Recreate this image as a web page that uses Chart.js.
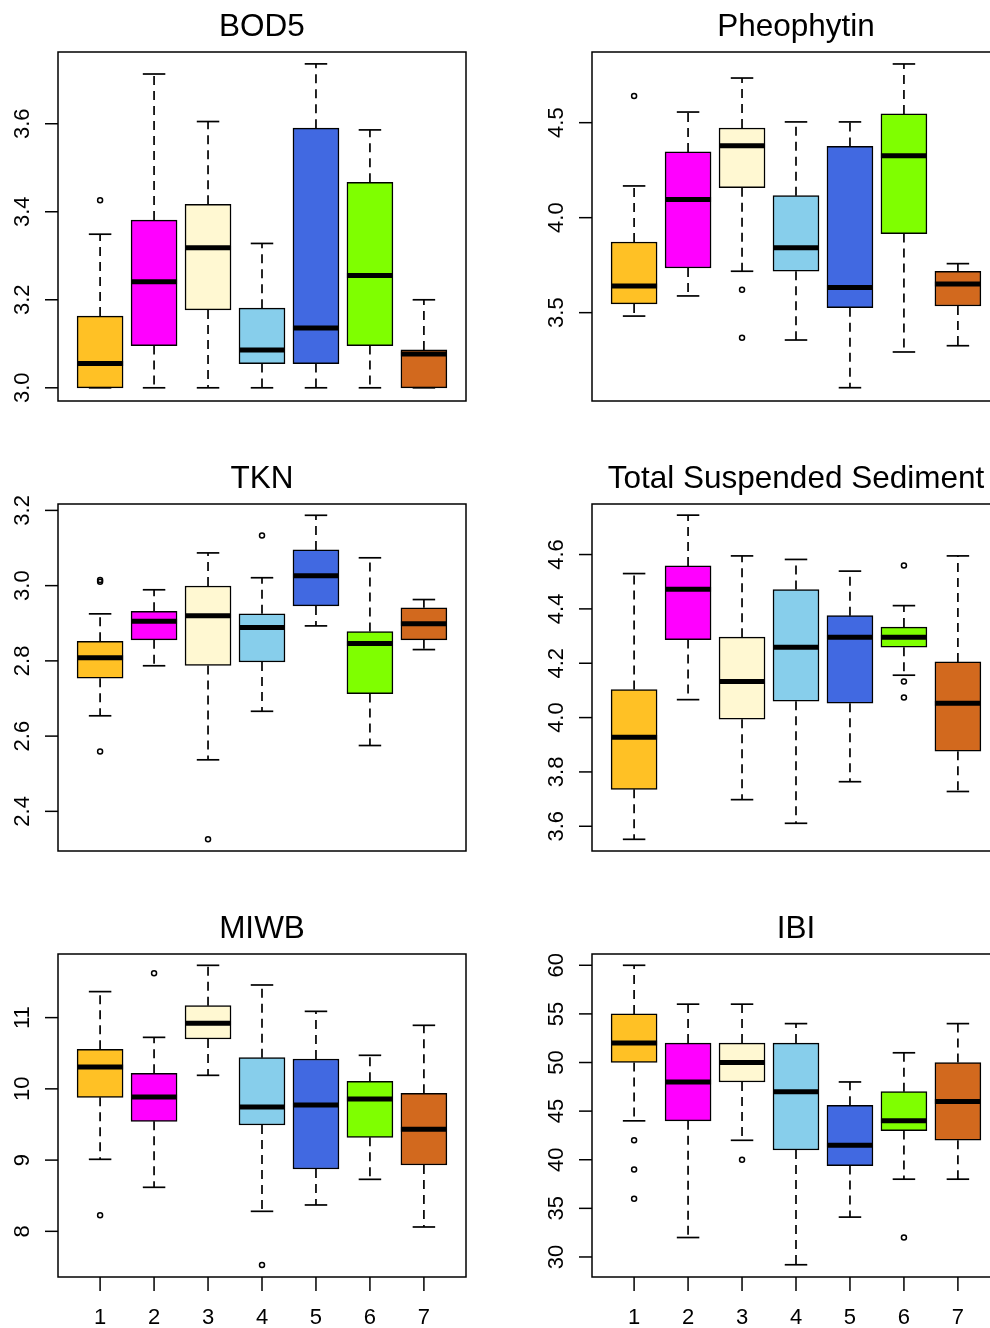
<!DOCTYPE html>
<html>
<head>
<meta charset="utf-8">
<script src="https://cdn.jsdelivr.net/npm/chart.js@4.4.1/dist/chart.umd.min.js"></script>
<style>
    body { margin: 0; background: #fff; width: 990px; height: 1328px; overflow: hidden; position: relative; }
    canvas { position: absolute; }
</style>
</head>
<body>
<canvas id="bod5Chart" width="495" height="440" style="left:0;top:0"></canvas>
<canvas id="pheoChart" width="520" height="440" style="left:495px;top:0"></canvas>
<canvas id="tknChart" width="495" height="440" style="left:0;top:450px"></canvas>
<canvas id="tssChart" width="520" height="440" style="left:495px;top:450px"></canvas>
<canvas id="miwbChart" width="495" height="428" style="left:0;top:900px"></canvas>
<canvas id="ibiChart" width="520" height="428" style="left:495px;top:900px"></canvas>
<script>
//! groups + colours
const groups = [1, 2, 3, 4, 5, 6, 7];
const boxColors = ['#FFC125', '#FF00FF', '#FFF8D2', '#87CEEB', '#4169E1', '#7FFF00', '#D2691E'];

// each row: [lower whisker, q1, median, q3, upper whisker]
const bod5 = [
    [3.00, 3.00, 3.055, 3.163, 3.349],
    [3.00, 3.096, 3.241, 3.381, 3.713],
    [3.00, 3.177, 3.318, 3.417, 3.605],
    [3.00, 3.055, 3.086, 3.181, 3.328],
    [3.00, 3.055, 3.136, 3.590, 3.736],
    [3.00, 3.096, 3.255, 3.467, 3.586],
    [3.00, 3.00, 3.077, 3.086, 3.200],
];
const bod5Out = [[1, 3.426]];
const bod5Ticks = ['3.0', '3.2', '3.4', '3.6'];

const pheo = [
    [3.482, 3.546, 3.640, 3.872, 4.167],
    [3.588, 3.735, 4.095, 4.346, 4.556],
    [3.718, 4.158, 4.379, 4.472, 4.735],
    [3.356, 3.718, 3.842, 4.116, 4.504],
    [3.105, 3.526, 3.632, 4.375, 4.504],
    [3.293, 3.916, 4.326, 4.546, 4.809],
    [3.326, 3.535, 3.651, 3.718, 3.758],
];
const pheoOut = [[1, 4.640], [3, 3.621], [3, 3.368]];
const pheoTicks = ['3.5', '4.0', '4.5'];

const tkn = [
    [2.654, 2.754, 2.808, 2.852, 2.925],
    [2.787, 2.856, 2.905, 2.932, 2.989],
    [2.537, 2.788, 2.920, 2.999, 3.087],
    [2.666, 2.797, 2.889, 2.925, 3.021],
    [2.893, 2.946, 3.026, 3.095, 3.187],
    [2.575, 2.713, 2.846, 2.878, 3.074],
    [2.830, 2.856, 2.899, 2.941, 2.963],
];
const tknOut = [[1, 3.010], [1, 3.015], [1, 2.559], [3, 2.326], [4, 3.133]];
const tknTicks = ['2.4', '2.6', '2.8', '3.0', '3.2'];

const tss = [
    [3.552, 3.736, 3.928, 4.103, 4.530],
    [4.066, 4.287, 4.472, 4.558, 4.745],
    [3.698, 3.994, 4.133, 4.296, 4.595],
    [3.611, 4.060, 4.259, 4.471, 4.582],
    [3.764, 4.053, 4.296, 4.375, 4.539],
    [4.156, 4.259, 4.296, 4.333, 4.412],
    [3.728, 3.876, 4.053, 4.205, 4.595],
];
const tssOut = [[6, 4.560], [6, 4.133], [6, 4.074]];
const tssTicks = ['3.6', '3.8', '4.0', '4.2', '4.4', '4.6'];

const miwb = [
    [9.011, 9.881, 10.307, 10.555, 11.365],
    [8.618, 9.544, 9.886, 10.218, 10.723],
    [10.190, 10.700, 10.920, 11.168, 11.734],
    [8.281, 9.493, 9.745, 10.438, 11.458],
    [8.370, 8.875, 9.773, 10.419, 11.088],
    [8.730, 9.320, 9.858, 10.106, 10.471],
    [8.061, 8.931, 9.432, 9.937, 10.892],
];
const miwbOut = [[1, 8.225], [2, 11.622], [4, 7.527]];
const miwbTicks = ['8', '9', '10', '11'];

const ibi = [
    [44, 50, 52, 55, 60],
    [32, 44, 48, 52, 56],
    [42, 48, 50, 52, 56],
    [29.2, 41, 47, 52, 54],
    [34.1, 39.4, 41.5, 45.6, 48],
    [38, 43, 44, 47, 51],
    [38, 42, 46, 50, 54],
];
const ibiOut = [[1, 42], [1, 39], [1, 36], [3, 40], [6, 32]];
const ibiTicks = ['30', '35', '40', '45', '50', '55', '60'];

const FONT = '"Liberation Sans", Arial, Helvetica, sans-serif';

//! frame, rotated y ticks and x ticks (R style)
const boxAxes = {
    id: 'boxAxes',
    afterDraw(chart, args, o) {
        const { ctx, chartArea: a, scales: { x, y } } = chart;
        ctx.save();
        ctx.strokeStyle = '#000';
        ctx.fillStyle = '#000';
        ctx.lineWidth = 1.5;
        ctx.strokeRect(a.left, a.top, a.right - a.left, a.bottom - a.top);
        ctx.font = '22px ' + FONT;
        ctx.textAlign = 'center';
        ctx.textBaseline = 'middle';

        o.ticks.forEach(t => {
            const py = y.getPixelForValue(parseFloat(t));
            ctx.beginPath();
            ctx.moveTo(a.left - 13, py);
            ctx.lineTo(a.left, py);
            ctx.stroke();
            ctx.save();
            ctx.translate(a.left - 35, py);
            ctx.rotate(-Math.PI / 2);
            ctx.fillText(t, 0, 0);
            ctx.restore();
        });

        if (o.showX) {
            groups.forEach(g => {
                const px = x.getPixelForValue(g);
                ctx.beginPath();
                ctx.moveTo(px, a.bottom);
                ctx.lineTo(px, a.bottom + 14);
                ctx.stroke();
                ctx.fillText(String(g), px, a.bottom + 41);
            });
        }
        ctx.restore();
    }
};

function makeBoxplot(id, title, stats, outs, ticks, yMin, yMax, opts) {
    const whiskers = [];
    const caps = [];
    stats.forEach((s, i) => {
        const g = groups[i];
        whiskers.push({ x: g, y: s[3] }, { x: g, y: s[4] }, { x: g, y: null });
        whiskers.push({ x: g, y: s[1] }, { x: g, y: s[0] }, { x: g, y: null });
        caps.push({ x: g, y: s[0] }, { x: g, y: s[4] });
    });

    return new Chart(document.getElementById(id), {
        type: 'bar',
        data: {
            datasets: [
                {
                    type: 'bar',
                    data: stats.map((s, i) => ({ x: groups[i], y: [s[1], s[3]] })),
                    backgroundColor: boxColors,
                    borderColor: '#000',
                    borderWidth: 1.5,
                    borderSkipped: false,
                    barThickness: 46,
                    order: 3,
                },
                {
                    type: 'line',
                    data: whiskers,
                    borderColor: '#000',
                    borderWidth: 1.7,
                    borderDash: [9, 6],
                    pointRadius: 0,
                    spanGaps: false,
                    order: 4,
                },
                {
                    type: 'line',
                    data: caps,
                    showLine: false,
                    pointStyle: 'line',
                    pointRadius: 11.25,
                    pointBorderWidth: 1.7,
                    pointBorderColor: '#000',
                    borderColor: '#000',
                    order: 2,
                },
                {
                    type: 'line',
                    data: stats.map((s, i) => ({ x: groups[i], y: s[2] })),
                    showLine: false,
                    pointStyle: 'line',
                    pointRadius: 23,
                    pointBorderWidth: 5,
                    pointBorderColor: '#000',
                    borderColor: '#000',
                    order: 1,
                },
                {
                    type: 'line',
                    data: outs.map(p => ({ x: p[0], y: p[1] })),
                    showLine: false,
                    pointStyle: 'circle',
                    pointRadius: 2.5,
                    pointBorderWidth: 1.5,
                    pointBorderColor: '#000',
                    pointBackgroundColor: 'rgba(0,0,0,0)',
                    borderColor: '#000',
                    order: 0,
                },
            ]
        },
        options: {
            responsive: false,
            animation: false,
            devicePixelRatio: 1,
            layout: {
                autoPadding: false,
                padding: opts.padding,
            },
            plugins: {
                legend: { display: false },
                tooltip: { enabled: false },
                title: {
                    display: true,
                    text: title,
                    color: '#000',
                    font: { family: FONT, size: 31.5, weight: 'normal', lineHeight: '36px' },
                    padding: opts.titlePad,
                },
                boxAxes: { ticks: ticks, showX: opts.showX },
            },
            scales: {
                x: { type: 'linear', min: 0.22, max: 7.78, offset: false, display: false },
                y: { type: 'linear', min: yMin, max: yMax, display: false },
            }
        },
        plugins: [boxAxes],
    });
}

const leftPad = { left: 58, right: 29 };
const rightPad = { left: 97, right: 15 };

makeBoxplot('bod5Chart', 'BOD5', bod5, bod5Out, bod5Ticks, 2.970, 3.763,
    { padding: { ...leftPad, top: 0, bottom: 39 }, titlePad: { top: 9, bottom: 7 }, showX: false });
makeBoxplot('pheoChart', 'Pheophytin', pheo, pheoOut, pheoTicks, 3.035, 4.872,
    { padding: { ...rightPad, top: 0, bottom: 39 }, titlePad: { top: 9, bottom: 7 }, showX: false });
makeBoxplot('tknChart', 'TKN', tkn, tknOut, tknTicks, 2.2946, 3.217,
    { padding: { ...leftPad, top: 0, bottom: 39 }, titlePad: { top: 11, bottom: 7 }, showX: false });
makeBoxplot('tssChart', 'Total Suspended Sediment', tss, tssOut, tssTicks, 3.509, 4.786,
    { padding: { ...rightPad, top: 0, bottom: 39 }, titlePad: { top: 11, bottom: 7 }, showX: false });
makeBoxplot('miwbChart', 'MIWB', miwb, miwbOut, miwbTicks, 7.359, 11.893,
    { padding: { ...leftPad, top: 0, bottom: 51 }, titlePad: { top: 11, bottom: 7 }, showX: true });
makeBoxplot('ibiChart', 'IBI', ibi, ibiOut, ibiTicks, 27.94, 61.16,
    { padding: { ...rightPad, top: 0, bottom: 51 }, titlePad: { top: 11, bottom: 7 }, showX: true });
</script>
</body>
</html>
